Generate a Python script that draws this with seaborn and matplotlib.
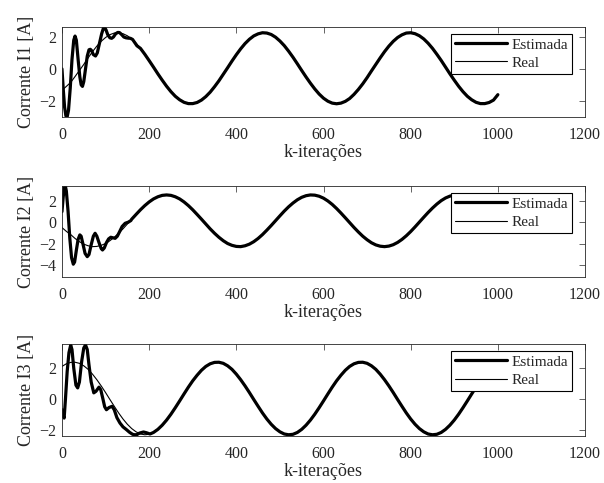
import matplotlib
matplotlib.use('Agg')  # no display
import matplotlib.pyplot as plt
import seaborn as sns
import pandas as pd

# iterations where the real currents were read (every 10)
k_real = list(range(0, 1001, 10))

# ---- Corrente I1 ----
i1_real = [-1.35, -1.10, -0.85, -0.48, -0.10, 0.28, 0.69, 1.08, 1.43, 1.73,
           1.97, 2.15, 2.25, 2.27, 2.21, 2.08, 1.88, 1.61, 1.29, 0.92,
           0.52, 0.11, -0.31, -0.71, -1.09, -1.43, -1.72, -1.94, -2.10, -2.18,
           -2.18, -2.11, -1.96, -1.74, -1.46, -1.12, -0.75, -0.34, 0.07, 0.49,
           0.89, 1.26, 1.59, 1.86, 2.07, 2.20, 2.27, 2.25, 2.16, 1.99,
           1.75, 1.46, 1.11, 0.73, 0.32, -0.10, -0.51, -0.90, -1.26, -1.58,
           -1.84, -2.03, -2.15, -2.19, -2.15, -2.04, -1.86, -1.60, -1.29, -0.94,
           -0.55, -0.13, 0.28, 0.69, 1.08, 1.43, 1.73, 1.97, 2.14, 2.25,
           2.27, 2.21, 2.08, 1.88, 1.61, 1.29, 0.92, 0.53, 0.11, -0.31,
           -0.71, -1.09, -1.43, -1.72, -1.94, -2.10, -2.18, -2.18, -2.11, -1.96,
           -1.62]
i1_early_k = [0, 3, 6, 9, 12, 15, 19, 23, 27, 30, 33, 37, 41, 44, 47, 50,
              54, 58, 62, 65, 68, 72, 77, 81, 86, 91, 95, 98, 101, 105, 110,
              114, 118, 123, 128, 132, 137, 142, 147, 152, 157, 162, 167, 172]
i1_early = [0.0, -1.3, -2.4, -2.95, -3.0, -2.6, -1.2, 0.6, 1.8, 2.06, 1.8,
            0.6, -0.5, -1.0, -1.1, -0.8, 0.0, 0.8, 1.2, 1.23, 1.15, 0.9, 0.81,
            1.0, 1.6, 2.2, 2.55, 2.6, 2.45, 2.15, 1.95, 1.92, 2.0, 2.2, 2.29,
            2.28, 2.15, 2.0, 1.95, 1.93, 1.92, 1.85, 1.65, 1.45]

# ---- Corrente I2 ----
i2_real = [-0.50, -0.85, -1.15, -1.51, -1.81, -2.04, -2.19, -2.27, -2.25, -2.15,
           -1.98, -1.72, -1.40, -1.03, -0.62, -0.17, 0.28, 0.72, 1.15, 1.54,
           1.88, 2.16, 2.36, 2.49, 2.53, 2.49, 2.36, 2.16, 1.88, 1.54,
           1.15, 0.72, 0.28, -0.17, -0.62, -1.03, -1.40, -1.72, -1.98, -2.15,
           -2.25, -2.27, -2.19, -2.04, -1.81, -1.51, -1.15, -0.74, -0.31, 0.14,
           0.59, 1.03, 1.43, 1.78, 2.08, 2.31, 2.46, 2.53, 2.51, 2.41,
           2.23, 1.97, 1.65, 1.27, 0.85, 0.41, -0.04, -0.49, -0.91, -1.30,
           -1.63, -1.91, -2.11, -2.23, -2.27, -2.22, -2.09, -1.88, -1.60, -1.26,
           -0.87, -0.44, 0.01, 0.46, 0.90, 1.31, 1.68, 2.00, 2.25, 2.42,
           2.52, 2.52, 2.45, 2.29, 2.05, 1.75, 1.39, 0.98, 0.55, 0.10,
           -0.35]
i2_early_k = [0, 3, 6, 8, 10, 14, 18, 22, 26, 29, 33, 37, 41, 44, 48, 53,
              58, 62, 67, 72, 76, 80, 85, 90, 93, 97, 102, 107, 112, 117, 122,
              127, 132, 138, 145, 152, 158]
i2_early = [0.98, 2.4, 3.25, 3.3, 2.9, 1.0, -1.5, -3.3, -3.9, -3.7, -2.6,
            -1.6, -1.18, -1.3, -2.0, -2.9, -3.2, -3.0, -2.1, -1.3, -1.03, -1.3,
            -1.9, -2.45, -2.58, -2.4, -1.9, -1.55, -1.4, -1.45, -1.5, -1.3,
            -0.9, -0.4, -0.1, 0.0, 0.15]

# ---- Corrente I3 ----
i3_real = [2.11, 2.28, 2.37, 2.38, 2.31, 2.15, 1.92, 1.61, 1.25, 0.85,
           0.42, -0.03, -0.47, -0.90, -1.29, -1.63, -1.91, -2.12, -2.26, -2.31,
           -2.28, -2.16, -1.96, -1.69, -1.36, -0.98, -0.56, -0.12, 0.33, 0.77,
           1.18, 1.54, 1.86, 2.11, 2.28, 2.37, 2.38, 2.31, 2.15, 1.92,
           1.61, 1.25, 0.85, 0.42, -0.03, -0.47, -0.90, -1.29, -1.63, -1.91,
           -2.12, -2.26, -2.31, -2.28, -2.16, -1.96, -1.69, -1.36, -0.98, -0.56,
           -0.12, 0.33, 0.77, 1.18, 1.54, 1.86, 2.11, 2.28, 2.37, 2.38,
           2.31, 2.15, 1.92, 1.61, 1.25, 0.85, 0.42, -0.03, -0.47, -0.90,
           -1.29, -1.63, -1.91, -2.12, -2.26, -2.31, -2.28, -2.16, -1.96, -1.69,
           -1.36, -0.98, -0.56, -0.12, 0.33, 0.77, 1.18, 1.54, 1.86, 2.11,
           2.28]
i3_early_k = [0, 3, 5, 8, 12, 16, 20, 23, 27, 32, 36, 40, 45, 50, 54, 58,
              62, 67, 73, 78, 85, 89, 94, 98, 102, 108, 115, 120, 126, 133,
              140, 148, 155, 162, 167, 172, 178, 187, 194, 202]
i3_early = [-0.69, -1.1, -1.23, 0.0, 1.8, 3.0, 3.49, 3.2, 2.0, 0.9, 0.72,
            1.1, 2.4, 3.3, 3.5, 3.2, 2.2, 1.1, 0.4, 0.5, 0.77, 0.6, 0.0, -0.5,
            -0.69, -0.55, -0.47, -0.7, -1.2, -1.55, -1.8, -1.98, -2.15, -2.28,
            -2.31, -2.3, -2.2, -2.13, -2.18, -2.26]

ylabels = ['Corrente I1 [A]', 'Corrente I2 [A]', 'Corrente I3 [A]']
ylims = [(-3.02, 2.63), (-5.09, 3.36), (-2.39, 3.56)]
yticks = [[-2, 0, 2], [-4, -2, 0, 2], [-2, 0, 2]]
xticks = [0, 200, 400, 600, 800, 1000, 1200]

sns.set_theme(style='white')
plt.rcParams['font.family'] = ['Liberation Serif', 'DejaVu Serif']
axcol = '#262626'

fig = plt.figure(figsize=(6.04, 4.83), dpi=100)
boxes = [[0.1026, 0.7578, 0.866, 0.1863],
         [0.1026, 0.4265, 0.866, 0.1884],
         [0.1026, 0.0973, 0.866, 0.1905]]

series = [(i1_real, i1_early_k, i1_early),
          (i2_real, i2_early_k, i2_early),
          (i3_real, i3_early_k, i3_early)]

for n, (real, ek, ev) in enumerate(series):
    ax = fig.add_axes(boxes[n])
    # estimated current follows the real one once it has converged
    cut = ek[-1]
    est_k = ek + [k for k in k_real if k > cut]
    est_v = ev + [v for k, v in zip(k_real, real) if k > cut]
    df_est = pd.DataFrame({'k': est_k, 'I': est_v})
    df_real = pd.DataFrame({'k': k_real, 'I': real})
    sns.lineplot(data=df_est, x='k', y='I', ax=ax, color='black', lw=2.3,
                 label='Estimada', sort=False, estimator=None)
    sns.lineplot(data=df_real, x='k', y='I', ax=ax, color='black', lw=0.8,
                 label='Real', sort=False, estimator=None)
    ax.set_xlim(0, 1200)
    ax.set_ylim(*ylims[n])
    ax.set_xticks(xticks)
    ax.set_yticks(yticks[n])
    ax.set_xlabel('k-iterações', fontsize=13, color=axcol, labelpad=1)
    ax.set_ylabel(ylabels[n], fontsize=13, color=axcol, labelpad=3)
    ax.tick_params(axis='both', direction='in', top=True, right=True,
                   length=4, width=0.5, colors=axcol, labelsize=11.5)
    ax.tick_params(axis='x', pad=7)
    ax.tick_params(axis='y', pad=4)
    for sp in ax.spines.values():
        sp.set_color(axcol)
        sp.set_linewidth(0.6)
    leg = ax.legend(loc='upper right', bbox_to_anchor=(0.975, 0.922),
                    fontsize=11, frameon=True, fancybox=False, edgecolor='black',
                    framealpha=1, handlelength=3.4, handletextpad=0.3,
                    labelspacing=0.3, borderpad=0.25, borderaxespad=0)
    leg.get_frame().set_linewidth(0.8)

fig.savefig('out.png', dpi=100)
